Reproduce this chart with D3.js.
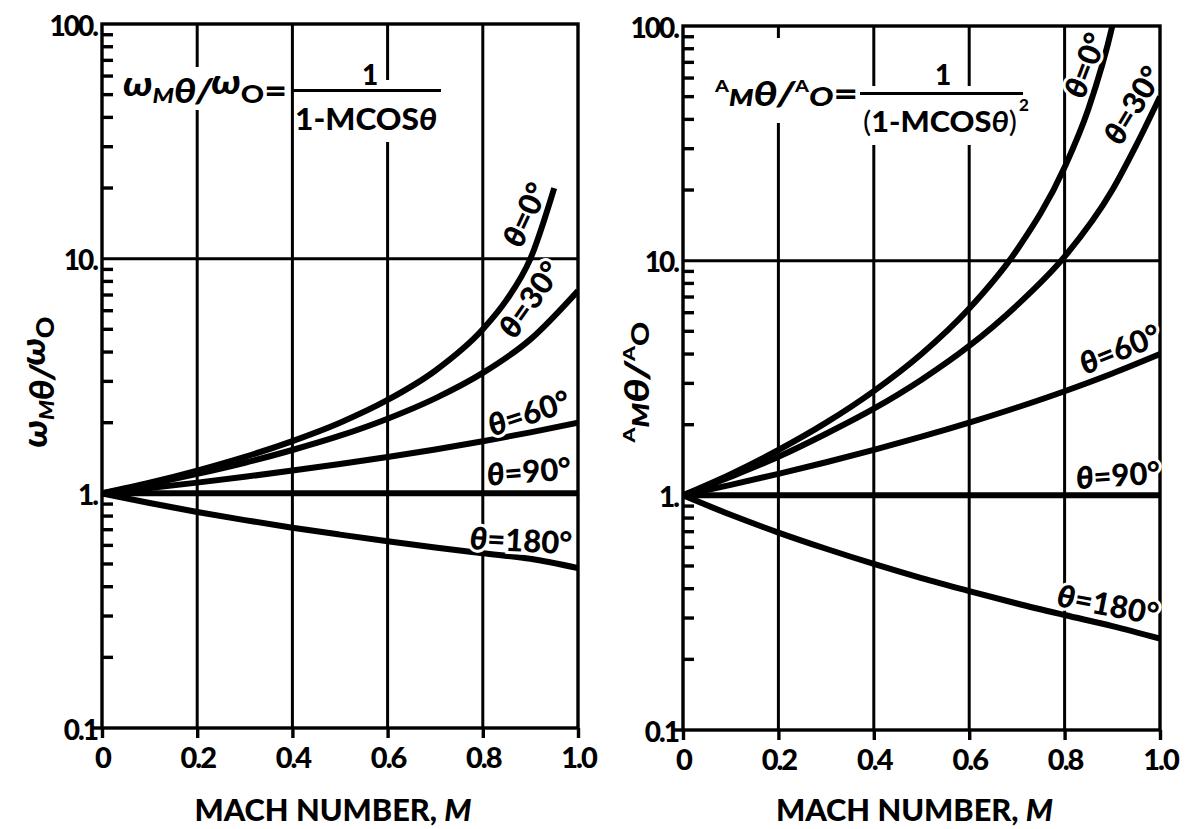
<!DOCTYPE html>
<html><head><meta charset="utf-8">
<script src="https://cdn.jsdelivr.net/npm/d3@7"></script>
<style>
body{margin:0;background:#fff}
text{font-family:Lato,"Open Sans",sans-serif;font-weight:900;fill:#000}
</style>
</head><body>
<svg id="c" width="1187" height="829"></svg>
<script>
// ---------- data ----------
const machNumbers = [0, 0.1, 0.2, 0.3, 0.4, 0.5, 0.6, 0.7, 0.8, 0.9, 1.0];
const machFreq0 = [0, 0.1, 0.2, 0.3, 0.4, 0.5, 0.6, 0.7, 0.8, 0.85, 0.9, 0.95];
const freqTheta0 = [1, 1.11, 1.25, 1.43, 1.67, 2.0, 2.5, 3.33, 5.0, 6.67, 10.0, 20.0];
const freqTheta30 = [1, 1.095, 1.21, 1.35, 1.53, 1.76, 2.08, 2.54, 3.26, 4.53, 7.3];
const freqTheta60 = [1, 1.053, 1.111, 1.176, 1.25, 1.333, 1.429, 1.538, 1.667, 1.818, 2.0];
const freqTheta90 = [1, 1, 1, 1, 1, 1, 1, 1, 1, 1, 1];
const freqTheta180 = [1, 0.909, 0.833, 0.769, 0.714, 0.667, 0.625, 0.588, 0.556, 0.526, 0.48];

const machAmp0 = [0, 0.1, 0.2, 0.3, 0.4, 0.5, 0.6, 0.7, 0.8, 0.85, 0.9, 0.92];
const ampTheta0 = [1, 1.23, 1.56, 2.04, 2.78, 4.0, 6.25, 11.1, 25.0, 44.4, 100, 156];
const machAmp30 = [0, 0.1, 0.2, 0.3, 0.4, 0.5, 0.6, 0.7, 0.8, 0.9, 0.95, 1.0];
const ampTheta30 = [1, 1.20, 1.46, 1.83, 2.34, 3.11, 4.33, 6.45, 10.4, 20.0, 31.0, 50.0];
const ampTheta60 = [1, 1.108, 1.235, 1.384, 1.563, 1.778, 2.041, 2.367, 2.778, 3.306, 4.0];
const ampTheta90 = [1, 1, 1, 1, 1, 1, 1, 1, 1, 1, 1];
const ampTheta180 = [1, 0.826, 0.694, 0.592, 0.510, 0.444, 0.391, 0.346, 0.309, 0.277, 0.245];

const yTickValues = [0.1, 1, 10, 100];
const yTickLabels = ["0.1", "1.", "10.", "100."];
const xTickValues = [0, 0.2, 0.4, 0.6, 0.8, 1.0];
const xTickLabels = ["0", "0.2", "0.4", "0.6", "0.8", "1.0"];
const gridX = [0.2, 0.4, 0.6, 0.8];
const gridY = [1, 10];
const minorTicks = [0.2, 0.3, 0.4, 0.5, 0.6, 0.7, 0.8, 0.9, 2, 3, 4, 5, 6, 7, 8, 9, 20, 30, 40, 50, 60, 70, 80, 90];
const angleLabels = ["0°", "30°", "60°", "90°", "180°"];
const xTitle = "MACH NUMBER, ";

// ---------- drawing ----------
const svg = d3.select("#c");
const panels = [];

function panel(cfg) {
  const x = d3.scaleLinear().domain([0, 1]).range([cfg.x0, cfg.x1]);
  const y = d3.scaleLog().domain([0.1, 100]).range([cfg.yb, cfg.yt]);
  const g = svg.append("g");
  const clipId = "clip" + cfg.id;
  svg.append("clipPath").attr("id", clipId).append("rect")
    .attr("x", cfg.x0).attr("y", cfg.yt).attr("width", cfg.x1 - cfg.x0).attr("height", cfg.yb - cfg.yt);

  // grid
  g.selectAll("line.gx").data(gridX).join("line").attr("class", "gx")
    .attr("x1", d => x(d)).attr("x2", d => x(d)).attr("y1", cfg.yt).attr("y2", cfg.yb)
    .attr("stroke", "#000").attr("stroke-width", 3);
  g.selectAll("line.gy").data(gridY).join("line").attr("class", "gy")
    .attr("y1", d => y(d)).attr("y2", d => y(d)).attr("x1", cfg.x0).attr("x2", cfg.x1)
    .attr("stroke", "#000").attr("stroke-width", 3);

  // frame
  g.append("rect").attr("x", cfg.x0).attr("y", cfg.yt).attr("width", cfg.x1 - cfg.x0).attr("height", cfg.yb - cfg.yt)
    .attr("fill", "none").attr("stroke", "#000").attr("stroke-width", 3.4);

  // y axis labels
  const ya = g.append("g").attr("transform", `translate(${cfg.x0},0)`)
    .call(d3.axisLeft(y).tickValues(yTickValues).tickSize(0).tickPadding(5)
      .tickFormat((d, i) => yTickLabels[i]));
  ya.select(".domain").remove();
  ya.selectAll("text").attr("font-size", 28).attr("font-family", "Lato").attr("font-weight", 900)
    .attr("letter-spacing", -2).attr("dy", "0.4em").attr("fill", "#000");

  // x axis
  const xa = g.append("g").attr("transform", `translate(0,${cfg.yb})`)
    .call(d3.axisBottom(x).tickValues(xTickValues).tickSize(10).tickPadding(9)
      .tickFormat((d, i) => xTickLabels[i]));
  xa.select(".domain").remove();
  xa.selectAll("line").attr("stroke-width", 3.4);
  xa.selectAll("text").attr("font-size", 29).attr("font-family", "Lato").attr("font-weight", 900)
    .attr("letter-spacing", -2).attr("fill", "#000");

  // curves
  const line = d3.line().x(d => x(d[0])).y(d => y(d[1])).curve(d3.curveMonotoneX);
  const cg = g.append("g").attr("clip-path", `url(#${clipId})`);
  cfg.series.forEach(s => {
    cg.append("path").attr("d", line(s.m.map((m, i) => [m, s.v[i]])))
      .attr("fill", "none").attr("stroke", "#000").attr("stroke-width", 6)
      .attr("stroke-linecap", "butt");
  });

  // curve labels
  cfg.labels.forEach(l => {
    const t = g.append("text")
      .attr("transform", `translate(${x(l.m)},${y(l.v)}) rotate(${l.r})`)
      .attr("text-anchor", "middle").attr("font-size", 31).attr("font-weight", 700)
      .attr("font-family", "'Open Sans',Lato,sans-serif")
      .attr("stroke", "#fff").attr("stroke-width", 6).attr("paint-order", "stroke")
      .attr("dy", "0.36em");
    t.append("tspan").attr("font-style", "italic").attr("font-weight", 800).text("θ");
    t.append("tspan").text("=" + l.text);
  });

  // x title
  const xt = g.append("text").attr("x", (cfg.x0 + cfg.x1) / 2 - 7).attr("y", 821)
    .attr("text-anchor", "middle").attr("font-size", 31).attr("font-weight", 900)
    .attr("textLength", 277).attr("lengthAdjust", "spacingAndGlyphs");
  xt.append("tspan").text(xTitle);
  xt.append("tspan").attr("font-style", "italic").text("M");
  panels.push({ x, y, cfg });
}

panel({
  id: "L", x0: 102, x1: 578, yt: 24, yb: 728,
  series: [
    { m: machFreq0, v: freqTheta0 },
    { m: machNumbers, v: freqTheta30 },
    { m: machNumbers, v: freqTheta60 },
    { m: machNumbers, v: freqTheta90 },
    { m: machNumbers, v: freqTheta180 }
  ],
  labels: [
    { text: angleLabels[0], m: 0.889, v: 15.4, r: -65 },
    { text: angleLabels[1], m: 0.899, v: 6.7, r: -55 },
    { text: angleLabels[2], m: 0.897, v: 2.2, r: -18 },
    { text: angleLabels[3], m: 0.897, v: 1.24, r: -4.5 },
    { text: angleLabels[4], m: 0.88, v: 0.63, r: 3 }
  ]
});

panel({
  id: "R", x0: 683, x1: 1160, yt: 26, yb: 730,
  series: [
    { m: machAmp0, v: ampTheta0 },
    { m: machAmp30, v: ampTheta30 },
    { m: machNumbers, v: ampTheta60 },
    { m: machNumbers, v: ampTheta90 },
    { m: machNumbers, v: ampTheta180 }
  ],
  labels: [
    { text: angleLabels[0], m: 0.843, v: 68, r: -69 },
    { text: angleLabels[1], m: 0.943, v: 46, r: -59 },
    { text: angleLabels[2], m: 0.916, v: 4.2, r: -22 },
    { text: angleLabels[3], m: 0.912, v: 1.22, r: -4 },
    { text: angleLabels[4], m: 0.891, v: 0.342, r: 11 }
  ]
});

// ---------- equations (white backing breaks the grid) ----------
function backing(x0, y0, x1, y1) {
  svg.append("rect").attr("x", x0).attr("y", y0).attr("width", x1 - x0).attr("height", y1 - y0).attr("fill", "#fff");
}
const EQF = "'Open Sans',sans-serif";
backing(118, 67, 290, 110);
backing(295, 80, 446, 142);
backing(708, 38, 861, 123);
backing(862, 86, 1036, 145);

// left equation
const eqL = svg.append("text").attr("x", 123).attr("y", 103).attr("font-size", 34)
  .attr("font-family", EQF).attr("font-weight", 800)
  .attr("textLength", 164).attr("lengthAdjust", "spacingAndGlyphs");
eqL.append("tspan").attr("font-style", "italic").attr("dy", -7).text("ω");
eqL.append("tspan").attr("font-size", 21).attr("dy", 7).attr("font-style", "italic").text("M");
eqL.append("tspan").attr("font-style", "italic").text("θ/");
eqL.append("tspan").attr("font-style", "italic").attr("dy", -9).text("ω");
eqL.append("tspan").attr("font-size", 25).attr("dy", 9).text("O");
eqL.append("tspan").text("=");
svg.append("text").attr("x", 370).attr("y", 85).attr("text-anchor", "middle")
  .attr("font-size", 28).attr("font-family", EQF).attr("font-weight", 800).text("1");
svg.append("line").attr("x1", 293).attr("x2", 441).attr("y1", 90.5).attr("y2", 90.5)
  .attr("stroke", "#000").attr("stroke-width", 3);
const dL = svg.append("text").attr("x", 295).attr("y", 130).attr("font-size", 30)
  .attr("font-family", EQF).attr("font-weight", 800)
  .attr("textLength", 142).attr("lengthAdjust", "spacingAndGlyphs");
dL.append("tspan").text("1-MCOS");
dL.append("tspan").attr("font-style", "italic").text("θ");

// right equation
const eqR = svg.append("text").attr("x", 715).attr("y", 106).attr("font-size", 34)
  .attr("font-family", EQF).attr("font-weight", 700)
  .attr("textLength", 143).attr("lengthAdjust", "spacingAndGlyphs");
eqR.append("tspan").attr("font-size", 16).attr("dy", -14).text("A");
eqR.append("tspan").attr("font-size", 22).attr("dy", 14).attr("font-style", "italic").attr("font-weight", 800).text("M");
eqR.append("tspan").attr("font-style", "italic").text("θ/");
eqR.append("tspan").attr("font-size", 16).attr("dy", -14).text("A");
eqR.append("tspan").attr("font-size", 26).attr("dy", 14).attr("font-style", "italic").text("O");
eqR.append("tspan").text("=");
svg.append("text").attr("x", 943).attr("y", 85).attr("text-anchor", "middle")
  .attr("font-size", 28).attr("font-family", EQF).attr("font-weight", 800).text("1");
svg.append("line").attr("x1", 860).attr("x2", 1023).attr("y1", 93.5).attr("y2", 93.5)
  .attr("stroke", "#000").attr("stroke-width", 3);
const dR = svg.append("text").attr("x", 863).attr("y", 132).attr("font-size", 29)
  .attr("font-family", EQF).attr("font-weight", 600)
  .attr("textLength", 154).attr("lengthAdjust", "spacingAndGlyphs");
dR.append("tspan").attr("font-weight", 400).text("(");
dR.append("tspan").text("1-MCOS");
dR.append("tspan").attr("font-style", "italic").attr("font-weight", 700).text("θ");
dR.append("tspan").attr("font-weight", 400).text(")");
svg.append("text").attr("x", 1019).attr("y", 111).attr("font-size", 17)
  .attr("font-family", EQF).attr("font-weight", 700).text("2");

// ---------- y titles ----------
const ytL = svg.append("text").attr("transform", "translate(54,382) rotate(-90)")
  .attr("text-anchor", "middle").attr("font-size", 34).attr("font-family", EQF).attr("font-weight", 800)
  .attr("textLength", 131).attr("lengthAdjust", "spacingAndGlyphs");
ytL.append("tspan").attr("font-style", "italic").attr("dy", -7).text("ω");
ytL.append("tspan").attr("font-size", 21).attr("dy", 7).attr("font-style", "italic").text("M");
ytL.append("tspan").attr("font-style", "italic").text("θ/");
ytL.append("tspan").attr("font-style", "italic").attr("dy", -9).text("ω");
ytL.append("tspan").attr("font-size", 25).attr("dy", 9).text("O");

const ytR = svg.append("text").attr("transform", "translate(649,382) rotate(-90)")
  .attr("text-anchor", "middle").attr("font-size", 34).attr("font-family", EQF).attr("font-weight", 700)
  .attr("textLength", 121).attr("lengthAdjust", "spacingAndGlyphs");
ytR.append("tspan").attr("font-size", 17).attr("dy", -14).text("A");
ytR.append("tspan").attr("font-size", 22).attr("dy", 14).attr("font-style", "italic").attr("font-weight", 800).text("M");
ytR.append("tspan").attr("font-style", "italic").text("θ/");
ytR.append("tspan").attr("font-size", 17).attr("dy", -14).text("A");
ytR.append("tspan").attr("font-size", 24).attr("dy", 14).text("O");

// ---------- minor ticks (drawn last, inside the left axis of each panel) ----------
panels.forEach(p => {
  const tg = svg.append("g").attr("class", "minor");
  minorTicks.forEach(v => {
    tg.append("line")
      .attr("x1", p.cfg.x0).attr("x2", p.cfg.x0 + 11)
      .attr("y1", p.y(v)).attr("y2", p.y(v))
      .attr("stroke", "#000").attr("stroke-width", 3.4);
  });
  tg.append("line")
    .attr("x1", p.cfg.x0 - 9).attr("x2", p.cfg.x0)
    .attr("y1", p.y(0.1)).attr("y2", p.y(0.1))
    .attr("stroke", "#000").attr("stroke-width", 3.4);
});
</script>
</body></html>
